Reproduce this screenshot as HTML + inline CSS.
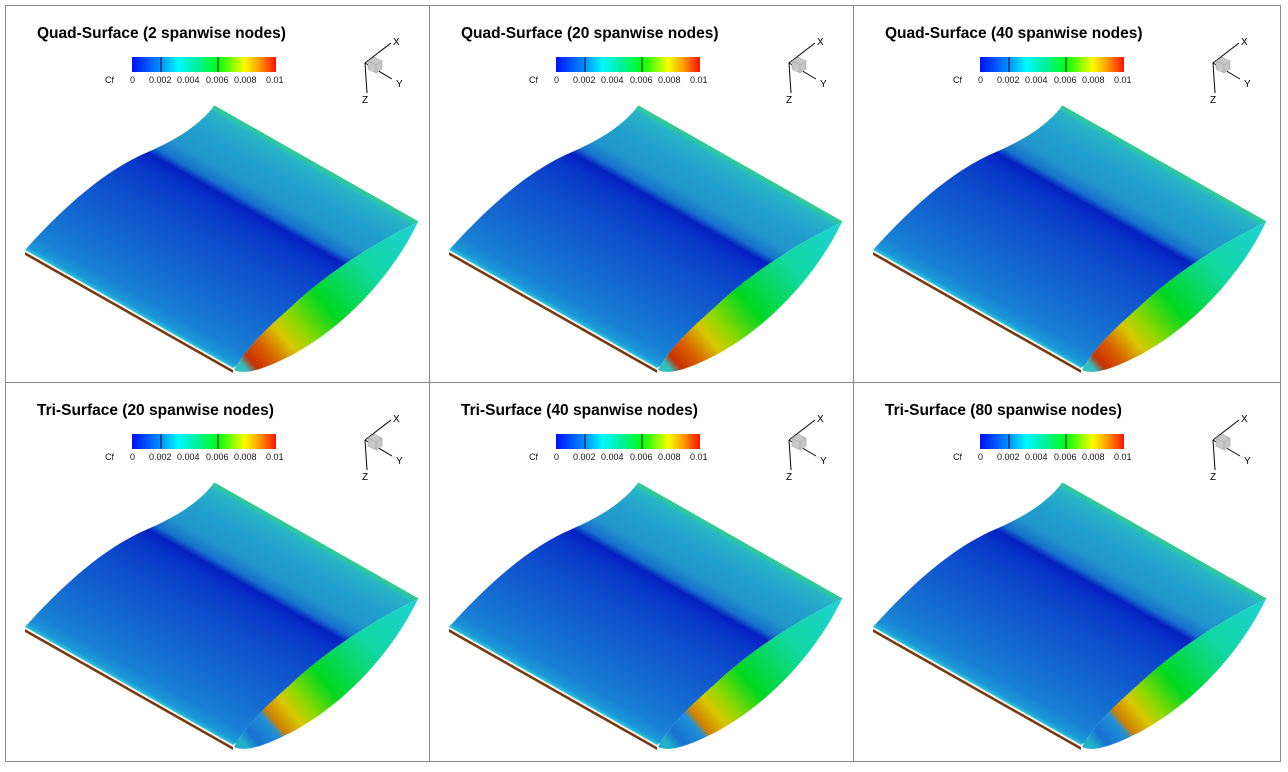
<!DOCTYPE html>
<html><head><meta charset="utf-8">
<style>
html,body{margin:0;padding:0;background:#fff;}
svg{display:block;}
text{font-family:"Liberation Sans",sans-serif;}
</style></head><body>
<svg width="1288" height="772" viewBox="0 0 1288 772" xmlns="http://www.w3.org/2000/svg">
<defs>
  <linearGradient id="cb" x1="0" y1="0" x2="1" y2="0">
    <stop offset="0" stop-color="#0010ff"/>
    <stop offset="0.2" stop-color="#0090ff"/>
    <stop offset="0.32" stop-color="#00f8ff"/>
    <stop offset="0.45" stop-color="#00f0a0"/>
    <stop offset="0.6" stop-color="#00ff10"/>
    <stop offset="0.78" stop-color="#f8ff00"/>
    <stop offset="0.88" stop-color="#ffa000"/>
    <stop offset="1" stop-color="#ff1000"/>
  </linearGradient>
  <linearGradient id="top" gradientUnits="userSpaceOnUse" x1="25" y1="250" x2="133" y2="60">
    <stop offset="0" stop-color="#30c8d8"/>
    <stop offset="0.02" stop-color="#1c98d8"/>
    <stop offset="0.08" stop-color="#1880d4"/>
    <stop offset="0.25" stop-color="#1468d0"/>
    <stop offset="0.45" stop-color="#0e4ecc"/>
    <stop offset="0.6" stop-color="#0836c8"/>
    <stop offset="0.665" stop-color="#0420c0"/>
    <stop offset="0.7" stop-color="#1670cc"/>
    <stop offset="0.76" stop-color="#2294cc"/>
    <stop offset="0.88" stop-color="#22a2cc"/>
    <stop offset="0.97" stop-color="#28b4c8"/>
    <stop offset="1" stop-color="#30d090"/>
  </linearGradient>
  <linearGradient id="tipA" gradientUnits="userSpaceOnUse" x1="418" y1="222" x2="245" y2="368">
    <stop offset="0" stop-color="#20d0d8"/>
    <stop offset="0.3" stop-color="#10d8a0"/>
    <stop offset="0.55" stop-color="#00d820"/>
    <stop offset="0.7" stop-color="#90d800"/>
    <stop offset="0.78" stop-color="#d8c800"/>
    <stop offset="0.88" stop-color="#d86000"/>
    <stop offset="0.96" stop-color="#c83000"/>
    <stop offset="1" stop-color="#30c0c0"/>
  </linearGradient>
  <linearGradient id="tipB" gradientUnits="userSpaceOnUse" x1="418" y1="222" x2="245" y2="368">
    <stop offset="0" stop-color="#20d0d8"/>
    <stop offset="0.3" stop-color="#10d8a0"/>
    <stop offset="0.55" stop-color="#00d820"/>
    <stop offset="0.68" stop-color="#90d800"/>
    <stop offset="0.75" stop-color="#d8c800"/>
    <stop offset="0.83" stop-color="#d08000"/>
    <stop offset="0.86" stop-color="#2090d8"/>
    <stop offset="0.95" stop-color="#1870d0"/>
    <stop offset="1" stop-color="#20b0c8"/>
  </linearGradient>
  <g id="base">
    <path d="M25,252 L233,370 L233,373 L25,255 Z" fill="#7a3a10"/>
    <path d="M25,250 C70,200 110,168 148,152 C180,138 200,124 214,106 L418,222 C380,240 330,270 290,308 C265,330 250,345 236,366 L233,368 Z" fill="url(#top)"/>
    <path d="M214,106 L418,222" stroke="#30c890" stroke-width="1.5"/>
    <g stroke="#000" stroke-width="1" fill="none">
      <line x1="365" y1="63" x2="391" y2="43"/>
      <line x1="365" y1="63" x2="392" y2="79"/>
      <line x1="365" y1="63" x2="367" y2="93"/>
    </g>
    <path d="M368,61 L374,57 L382,61 L382,69 L376,73 L368,69 Z" fill="#c8c8c8" stroke="#999" stroke-width="0.5"/>
    <path d="M368,61 L376,65 L382,61 M376,65 L376,73" stroke="#999" stroke-width="0.5" fill="none"/>
    <text x="393" y="45" font-size="10">X</text>
    <text x="396" y="87" font-size="10">Y</text>
    <text x="362" y="103" font-size="10">Z</text>
    <rect x="132" y="57" width="144" height="15" fill="url(#cb)"/>
    <line x1="161" y1="57" x2="161" y2="72" stroke="#000"/>
    <line x1="218" y1="57" x2="218" y2="72" stroke="#000"/>
    <g font-size="9" fill="#111">
      <text x="105" y="83">Cf</text>
      <text x="130" y="83">0</text>
      <text x="149" y="83">0.002</text>
      <text x="177" y="83">0.004</text>
      <text x="206" y="83">0.006</text>
      <text x="234" y="83">0.008</text>
      <text x="266" y="83">0.01</text>
    </g>
  </g>
  <path id="tip" d="M418,222 C380,240 330,270 290,308 C265,330 250,345 236,366 L234,370 C245,375 262,370 290,356 C340,330 390,280 418,222 Z"/>
  <g id="pa">
    <use href="#base"/>
    <use href="#tip" fill="url(#tipA)"/>
  </g>
  <g id="pb">
    <use href="#base"/>
    <use href="#tip" fill="url(#tipB)"/>
  </g>
</defs>
<rect x="5.5" y="5.5" width="1275" height="756" fill="none" stroke="#888"/>
<line x1="429.5" y1="5" x2="429.5" y2="762" stroke="#888"/>
<line x1="853.5" y1="5" x2="853.5" y2="762" stroke="#888"/>
<line x1="5" y1="382.5" x2="1281" y2="382.5" stroke="#888"/>

<use href="#pa" x="0" y="0"/>
<use href="#pa" x="424" y="0"/>
<use href="#pa" x="848" y="0"/>
<use href="#pb" x="0" y="377"/>
<use href="#pb" x="424" y="377"/>
<use href="#pb" x="848" y="377"/>

<g font-size="15.5" font-weight="bold" fill="#000">
  <text x="37" y="38">Quad-Surface (2 spanwise nodes)</text>
  <text x="461" y="38">Quad-Surface (20 spanwise nodes)</text>
  <text x="885" y="38">Quad-Surface (40 spanwise nodes)</text>
  <text x="37" y="415">Tri-Surface (20 spanwise nodes)</text>
  <text x="461" y="415">Tri-Surface (40 spanwise nodes)</text>
  <text x="885" y="415">Tri-Surface (80 spanwise nodes)</text>
</g>
</svg>
</body></html>
